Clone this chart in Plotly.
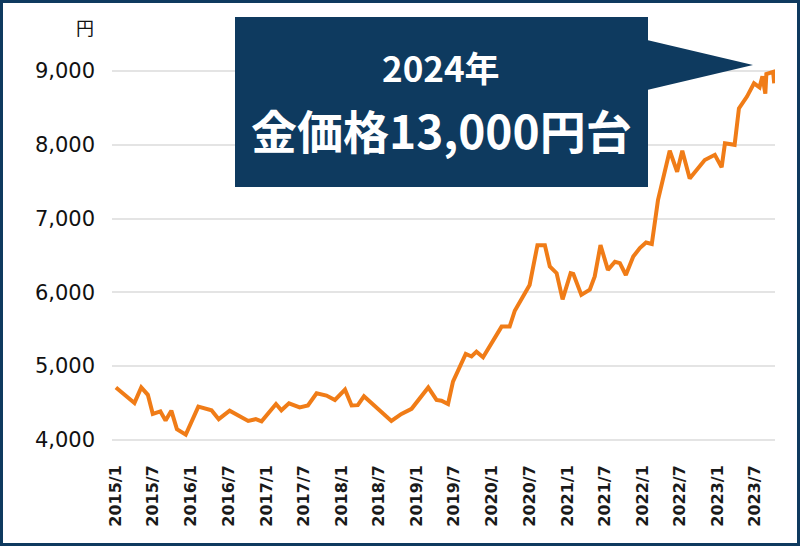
import plotly.graph_objects as go

# ---- data ----
dates = [
    "2015-01-01", "2015-04-01", "2015-05-04", "2015-06-05", "2015-06-29", "2015-08-05",
    "2015-08-30", "2015-09-27", "2015-10-24", "2015-12-06", "2016-02-05", "2016-04-09",
    "2016-05-14", "2016-07-06", "2016-10-04", "2016-11-10", "2016-12-08", "2017-02-16",
    "2017-03-14", "2017-04-20", "2017-06-11", "2017-07-21", "2017-09-01", "2017-10-19",
    "2017-11-29", "2018-01-17", "2018-02-18", "2018-03-20", "2018-04-19", "2018-08-30",
    "2018-10-18", "2018-12-06", "2019-02-25", "2019-04-06", "2019-04-30", "2019-06-01",
    "2019-06-25", "2019-07-19", "2019-08-26", "2019-09-23", "2019-10-17", "2019-11-18",
    "2020-01-06", "2020-02-16", "2020-03-26", "2020-04-20", "2020-07-01", "2020-08-08",
    "2020-09-13", "2020-10-07", "2020-11-09", "2020-12-08", "2021-01-16", "2021-01-29",
    "2021-03-09", "2021-04-19", "2021-05-13", "2021-06-10", "2021-07-16", "2021-08-19",
    "2021-09-12", "2021-10-11", "2021-11-16", "2021-12-18", "2022-01-17", "2022-02-14",
    "2022-03-16", "2022-05-12", "2022-06-17", "2022-07-12", "2022-08-17", "2022-09-27",
    "2022-10-29", "2022-12-17", "2023-01-19", "2023-02-04", "2023-03-23", "2023-04-13",
    "2023-05-22", "2023-06-25", "2023-07-22", "2023-08-05", "2023-08-19", "2023-08-24",
    "2023-09-26", "2023-10-01",
]
prices = [
    4710, 4500, 4710, 4610, 4350, 4385,
    4260, 4395, 4145, 4070, 4450, 4400,
    4280, 4395, 4255, 4280, 4250, 4485,
    4400, 4495, 4440, 4465, 4630, 4600,
    4540, 4680, 4465, 4470, 4590, 4255,
    4350, 4420, 4710, 4540, 4530, 4485,
    4790, 4925, 5165, 5130, 5195, 5120,
    5355, 5535, 5535, 5750, 6100, 6640,
    6640, 6350, 6260, 5905, 6260, 6250,
    5965, 6035, 6215, 6640, 6305, 6415,
    6395, 6235, 6485, 6600, 6675, 6655,
    7250, 7920, 7635, 7920, 7545, 7680,
    7795, 7865, 7695, 8020, 8000, 8495,
    8655, 8835, 8780, 8930, 8695, 8960,
    8990, 8835,
]

tick_dates = [
    "2015-01-01", "2015-07-01", "2016-01-01", "2016-07-01", "2017-01-01", "2017-07-01",
    "2018-01-01", "2018-07-01", "2019-01-01", "2019-07-01", "2020-01-01", "2020-07-01",
    "2021-01-01", "2021-07-01", "2022-01-01", "2022-07-01", "2023-01-01", "2023-07-01",
]
tick_labels = [
    "2015/1", "2015/7", "2016/1", "2016/7", "2017/1", "2017/7",
    "2018/1", "2018/7", "2019/1", "2019/7", "2020/1", "2020/7",
    "2021/1", "2021/7", "2022/1", "2022/7", "2023/1", "2023/7",
]
y_ticks = [4000, 5000, 6000, 7000, 8000, 9000]
y_tick_labels = ["4,000", "5,000", "6,000", "7,000", "8,000", "9,000"]
unit_label = "円"
callout_year = "2024年"
callout_main = "金価格13,000円台"

# ---- layout geometry ----
W, H = 800, 546
ML, MR, MT, MB = 112, 25, 49, 104
PW = W - ML - MR
PH = H - MT - MB

NAVY = "#0e3a5f"
ORANGE = "#f07c17"


def px(x):
    return (x - ML) / PW


def py(y):
    return (H - MB - y) / PH


fig = go.Figure()
fig.add_trace(go.Scatter(
    x=dates, y=prices, mode="lines",
    line=dict(color=ORANGE, width=4),
    hoverinfo="skip", showlegend=False,
))

shapes = [
    # outer frame
    dict(type="rect", xref="paper", yref="paper",
         x0=px(1.5), x1=px(W - 1.5), y0=py(H - 1.5), y1=py(1.5),
         line=dict(color=NAVY, width=3), fillcolor="rgba(0,0,0,0)", layer="above"),
    # callout box
    dict(type="rect", xref="paper", yref="paper",
         x0=px(235), x1=px(648), y0=py(187), y1=py(17),
         line=dict(width=0), fillcolor=NAVY, layer="above"),
    # callout pointer
    dict(type="path", xref="paper", yref="paper",
         path=f"M {px(647)},{py(40)} L {px(753)},{py(65)} L {px(647)},{py(90)} Z",
         line=dict(width=0), fillcolor=NAVY, layer="above"),
]

annotations = [
    dict(text=f"<b>{callout_year}</b>", xref="paper", yref="paper",
         x=px(441), y=py(67), xanchor="center", yanchor="middle", showarrow=False,
         font=dict(family="Noto Sans CJK JP", size=35, color="white")),
    dict(text=f"<b>{callout_main}</b>", xref="paper", yref="paper",
         x=px(441), y=py(129), xanchor="center", yanchor="middle", showarrow=False,
         font=dict(family="Noto Sans CJK JP", size=46, color="white")),
    dict(text=unit_label, xref="paper", yref="paper",
         x=px(85), y=py(27), xanchor="center", yanchor="middle", showarrow=False,
         font=dict(family="Noto Sans CJK JP", size=18, color="#111111")),
]

fig.update_layout(
    width=W, height=H,
    margin=dict(l=ML, r=MR, t=MT, b=MB, pad=0),
    paper_bgcolor="white", plot_bgcolor="white",
    shapes=shapes, annotations=annotations,
    showlegend=False,
    xaxis=dict(
        type="date", range=["2014-12-13", "2023-10-05"],
        tickmode="array", tickvals=tick_dates, ticktext=tick_labels,
        tickangle=-90, showgrid=False, zeroline=False, showline=False,
        ticks="", ticklabelstandoff=19,
        tickfont=dict(family="DejaVu Sans", size=16, color="#1a1a1a", weight="bold"),
    ),
    yaxis=dict(
        range=[3970, 9300],
        tickmode="array", tickvals=y_ticks, ticktext=y_tick_labels,
        showgrid=True, gridcolor="#e4e4e4", gridwidth=2,
        zeroline=False, showline=False, ticks="", ticklabelstandoff=16,
        tickfont=dict(family="DejaVu Sans", size=21, color="#111111"),
    ),
)

fig.write_html(
    "out.html",
    config={"displayModeBar": False, "staticPlot": True},
    post_script="document.body.style.margin='0';document.body.style.overflow='hidden';",
)
